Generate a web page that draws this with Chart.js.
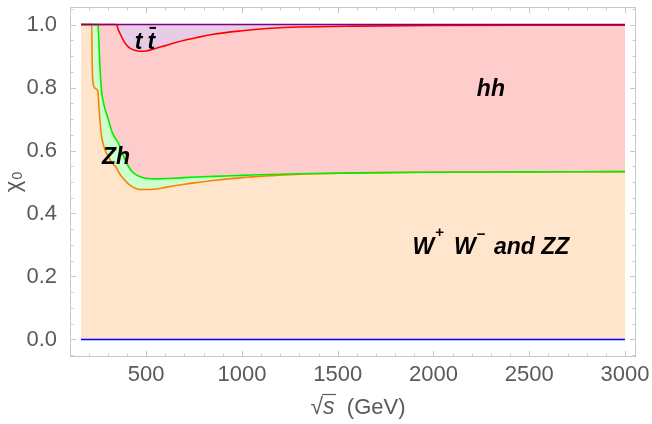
<!DOCTYPE html>
<html>
<head>
<meta charset="utf-8">
<script src="https://cdn.jsdelivr.net/npm/chart.js@4"></script>
<style>
  html, body { margin: 0; padding: 0; background: #fff; }
  #wrap { width: 652px; height: 424px; }
</style>
</head>
<body>
<div id="wrap"><canvas id="c" width="652" height="424"></canvas></div>
<script>
// Collision energy sqrt(s) in GeV (shared grid for all boundaries)
const energy = [160, 216, 219, 223, 235, 248, 250, 253, 256, 260, 265, 270, 280, 290, 303, 320, 330, 346, 355, 365,
                380, 390, 407, 425, 440, 470, 500, 550, 600, 650, 700, 760, 850, 1000, 1150, 1300, 1600, 2000, 2500, 3000];

// Lower edge of the stack
const floorFrac = [0, 0, 0, 0, 0, 0, 0, 0, 0, 0, 0, 0, 0, 0, 0, 0, 0, 0, 0, 0,
                   0, 0, 0, 0, 0, 0, 0, 0, 0, 0, 0, 0, 0, 0, 0, 0, 0, 0, 0, 0];

// Cumulative fraction: W+W- and ZZ
const wwzzTop = [1.000, 1.000, 0.860, 0.815, 0.797, 0.788, 0.775, 0.745, 0.720, 0.690, 0.655, 0.635, 0.612, 0.595, 0.580, 0.563, 0.555, 0.545, 0.533, 0.523,
                 0.512, 0.505, 0.494, 0.486, 0.481, 0.476, 0.476, 0.478, 0.483, 0.488, 0.493, 0.498, 0.505, 0.514, 0.520, 0.525, 0.529, 0.531, 0.532, 0.533];

// Cumulative fraction: + Zh
const zhTop = [1.000, 1.000, 1.000, 1.000, 1.000, 1.000, 0.990, 0.950, 0.905, 0.855, 0.805, 0.775, 0.745, 0.722, 0.698, 0.663, 0.648, 0.633, 0.624, 0.608,
               0.586, 0.571, 0.550, 0.534, 0.526, 0.517, 0.512, 0.510, 0.511, 0.512, 0.514, 0.516, 0.518, 0.521, 0.524, 0.526, 0.529, 0.531, 0.532, 0.533];

// Cumulative fraction: + hh
const hhTop = [1.000, 1.000, 1.000, 1.000, 1.000, 1.000, 1.000, 1.000, 1.000, 1.000, 1.000, 1.000, 1.000, 1.000, 1.000, 1.000, 1.000, 1.000, 0.983, 0.970,
               0.951, 0.941, 0.929, 0.922, 0.918, 0.915, 0.916, 0.924, 0.933, 0.942, 0.950, 0.958, 0.969, 0.980, 0.988, 0.992, 0.995, 0.997, 0.998, 0.998];

// Cumulative fraction: + t tbar (total)
const ttTop = [1, 1, 1, 1, 1, 1, 1, 1, 1, 1, 1, 1, 1, 1, 1, 1, 1, 1, 1, 1,
               1, 1, 1, 1, 1, 1, 1, 1, 1, 1, 1, 1, 1, 1, 1, 1, 1, 1, 1, 1];

// Axis ticks
const xTicks = [500, 1000, 1500, 2000, 2500, 3000];
const yTicks = [0, 0.2, 0.4, 0.6, 0.8, 1.0];
const xMinorStep = 100;
const yMinorStep = 0.05;

// In-plot channel labels (data coordinates of the text baseline centre)
const channelLabels = [
  { id: 'tt', x: 494, y: 0.921 },
  { id: 'hh', x: 2300, y: 0.774 },
  { id: 'zh', x: 343, y: 0.556 },
  { id: 'ww', x: 2300, y: 0.270 }
];

const pts = arr => energy.map((e, i) => ({ x: e, y: arr[i] }));

const FONT = '"Liberation Sans", Arial, sans-serif';
const LABEL = 'italic bold 23px ' + FONT;

const framePlugin = {
  id: 'frameTicks',
  afterDraw(chart) {
    const { ctx, chartArea: a, scales: { x, y } } = chart;
    ctx.save();
    ctx.strokeStyle = '#c8c8c8';
    ctx.lineWidth = 1;
    ctx.strokeRect(a.left + 0.5, a.top + 0.5, a.right - a.left - 1, a.bottom - a.top - 1);

    const major = 6, minor = 3.5;
    ctx.beginPath();
    // x ticks on bottom and top edges
    for (let v = Math.ceil(x.min / xMinorStep) * xMinorStep; v <= x.max; v += xMinorStep) {
      const px = Math.round(x.getPixelForValue(v)) + 0.5;
      const len = xTicks.includes(v) ? major : minor;
      ctx.moveTo(px, a.bottom); ctx.lineTo(px, a.bottom - len);
      ctx.moveTo(px, a.top); ctx.lineTo(px, a.top + len);
    }
    // y ticks on left and right edges
    for (let k = Math.ceil(y.min / yMinorStep); k * yMinorStep <= y.max + 1e-9; k++) {
      const v = +(k * yMinorStep).toFixed(2);
      const py = Math.round(y.getPixelForValue(v)) + 0.5;
      const len = yTicks.some(t => Math.abs(t - v) < 1e-6) ? major : minor;
      ctx.moveTo(a.left, py); ctx.lineTo(a.left + len, py);
      ctx.moveTo(a.right, py); ctx.lineTo(a.right - len, py);
    }
    ctx.stroke();

    // Channel labels
    ctx.fillStyle = '#000';
    ctx.textBaseline = 'alphabetic';
    ctx.strokeStyle = '#000';
    for (const lab of channelLabels) {
      const cx = x.getPixelForValue(lab.x);
      const by = y.getPixelForValue(lab.y);
      ctx.font = LABEL;
      if (lab.id === 'tt') {
        const tw = ctx.measureText('t').width;
        const gap = 5;
        const left = cx - (2 * tw + gap) / 2;
        ctx.textAlign = 'left';
        ctx.fillText('t', left, by);
        ctx.fillText('t', left + tw + gap, by);
        ctx.lineWidth = 2;
        ctx.beginPath();
        ctx.moveTo(left + tw + gap + 2, by - 21.5);
        ctx.lineTo(left + tw + gap + 8.5, by - 21.5);
        ctx.stroke();
      } else if (lab.id === 'ww') {
        const sup = 'bold 15px ' + FONT;
        const runs = [
          { t: 'W', f: LABEL, dy: 0, after: 1 },
          { t: '+', f: sup, dy: -17, after: 10 },
          { t: 'W', f: LABEL, dy: 0, after: 1 },
          { t: '\u2212', f: sup, dy: -15, after: 2 },
          { t: ' and ZZ', f: LABEL, dy: 0, after: 0 }
        ];
        let total = 0;
        for (const r of runs) { ctx.font = r.f; r.w = ctx.measureText(r.t).width; total += r.w + r.after; }
        let px = cx - total / 2;
        ctx.textAlign = 'left';
        for (const r of runs) { ctx.font = r.f; ctx.fillText(r.t, px, by + r.dy); px += r.w + r.after; }
      } else {
        ctx.textAlign = 'center';
        ctx.fillText(lab.id === 'hh' ? 'hh' : 'Zh', cx, by);
      }
    }

    // Axis titles
    ctx.fillStyle = '#5a5a5a';
    ctx.strokeStyle = '#5a5a5a';
    // x: sqrt(s) (GeV)
    const xcx = (a.left + a.right) / 2 + 5;
    const xb = 414;
    const parts = [
      { t: '\u221A', f: '23px ' + FONT },
      { t: 's', f: 'italic 23px ' + FONT },
      { t: '  (GeV)', f: '22px ' + FONT }
    ];
    let tot = 0;
    for (const p of parts) { ctx.font = p.f; p.w = ctx.measureText(p.t).width; tot += p.w; }
    let xp = xcx - tot / 2;
    ctx.textAlign = 'left';
    const sStart = xp + parts[0].w;
    for (const p of parts) { ctx.font = p.f; ctx.fillText(p.t, xp, xb); xp += p.w; }
    ctx.lineWidth = 1.2;
    ctx.beginPath();
    ctx.moveTo(sStart - 1, xb - 19.5);
    ctx.lineTo(sStart + parts[1].w + 1.5, xb - 19.5);
    ctx.stroke();

    // y: chi_0
    ctx.save();
    ctx.translate(20, (a.top + a.bottom) / 2);
    ctx.rotate(-Math.PI / 2);
    ctx.font = '22px ' + FONT;
    const cw = ctx.measureText('\u03C7').width;
    ctx.font = '14px ' + FONT;
    const zw = ctx.measureText('0').width;
    const start = -(cw + zw + 1) / 2;
    ctx.font = '22px ' + FONT;
    ctx.fillText('\u03C7', start, 0);
    ctx.font = '14px ' + FONT;
    ctx.fillText('0', start + cw + 1, 2);
    ctx.restore();

    ctx.restore();
  }
};

// Keep the plot frame fixed: no extra room reserved for overhanging tick labels
const noOverhang = s => { s.paddingTop = 0; s.paddingBottom = 0; s.paddingLeft = 0; s.paddingRight = 0; };

new Chart(document.getElementById('c'), {
  type: 'line',
  data: {
    datasets: [
      { label: 'floor', data: pts(floorFrac), borderColor: '#0000ff', fill: false, order: 1 },
      { label: 'W+W- and ZZ', data: pts(wwzzTop), borderColor: '#ff8000', backgroundColor: '#ffe5cc', fill: '-1', order: 4 },
      { label: 'Zh', data: pts(zhTop), borderColor: '#00ee00', backgroundColor: '#ccffcc', fill: '-1', order: 3 },
      { label: 'hh', data: pts(hhTop), borderColor: '#ff0000', backgroundColor: '#ffcccc', fill: '-1', order: 2 },
      { label: 'tt', data: pts(ttTop), borderColor: '#800080', backgroundColor: '#e6cce6', fill: '-1', order: 0 }
    ]
  },
  options: {
    responsive: false,
    animation: false,
    devicePixelRatio: 1,
    layout: { padding: { top: 7, right: 16, left: 0, bottom: 0 } },
    elements: {
      point: { radius: 0, hoverRadius: 0 },
      line: { borderWidth: 1.6, cubicInterpolationMode: 'monotone' }
    },
    plugins: {
      legend: { display: false },
      tooltip: { enabled: false },
      filler: { drawTime: 'beforeDatasetsDraw' }
    },
    scales: {
      x: {
        type: 'linear',
        min: 102.6,
        max: 3057.4,
        grid: { display: false },
        border: { display: false },
        afterBuildTicks: s => { s.ticks = xTicks.map(v => ({ value: v })); },
        afterFit: s => { s.height = 67; noOverhang(s); },
        ticks: {
          autoSkip: false, maxRotation: 0, padding: -3,
          color: '#5a5a5a',
          font: { family: FONT, size: 22 },
          callback: v => String(v)
        }
      },
      y: {
        type: 'linear',
        min: -0.0556,
        max: 1.0556,
        grid: { display: false },
        border: { display: false },
        afterBuildTicks: s => { s.ticks = yTicks.map(v => ({ value: v })); },
        afterFit: s => { s.width = 70; noOverhang(s); },
        ticks: {
          autoSkip: false, padding: 5,
          color: '#5a5a5a',
          font: { family: FONT, size: 22 },
          callback: v => Number(v).toFixed(1)
        }
      }
    }
  },
  plugins: [framePlugin]
});
</script>
</body>
</html>
